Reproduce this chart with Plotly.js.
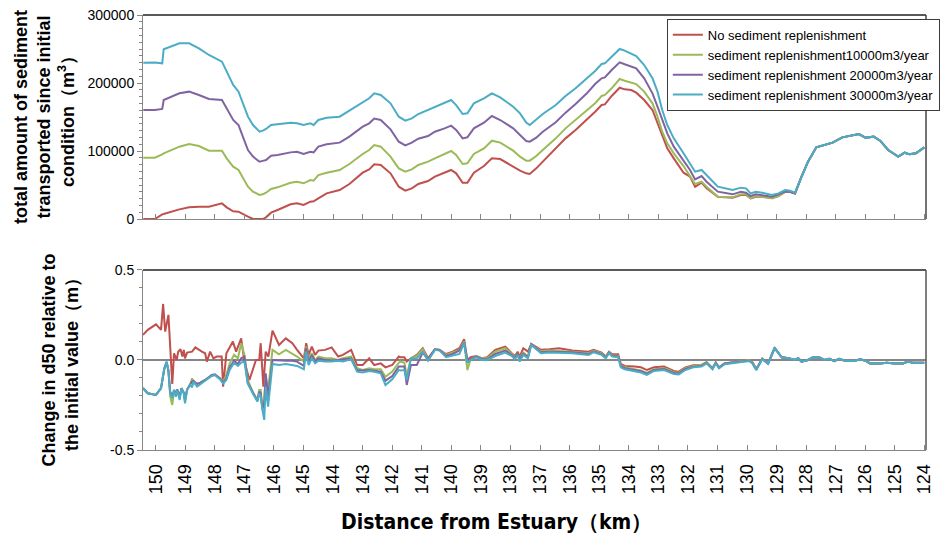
<!DOCTYPE html>
<html>
<head>
<meta charset="utf-8">
<script src="https://cdn.plot.ly/plotly-3.0.1.min.js"></script>
<style>html,body{margin:0;padding:0;background:#fff;}#chart{width:947px;height:536px;}</style>
</head>
<body>
<div id="chart"></div>
<script>
// ---------- Top panel: total amount of sediment transported (m3) ----------
const kmTop = [150.42,150.03,149.78,149.73,149.2,148.87,148.54,148.2,147.76,147.6,147.38,147.2,146.88,146.71,146.49,146.38,146.27,146.1,145.88,145.44,145.22,145.0,144.77,144.66,144.5,144.22,143.78,143.45,143.0,142.78,142.61,142.39,142.06,141.78,141.56,141.34,141.12,140.79,140.56,140.23,140.01,139.84,139.62,139.46,139.24,138.9,138.63,138.35,137.91,137.68,137.47,
  137.35,137.13,136.91,136.47,136.14,135.8,135.42,135.14,134.92,134.81,134.58,134.31,134.14,133.92,133.75,133.48,133.2,133.03,132.87,132.7,132.48,132.15,131.93,131.76,131.54,131.37,130.99,130.49,130.21,130.04,129.88,129.71,129.49,129.16,128.94,128.71,128.55,128.38,128.16,127.94,127.66,127.39,127.11,126.78,126.5,126.22,126.0,125.72,125.5,125.23,124.89,124.67,124.51,124.29,124.01];

const redTop = [0,0,6900,7400,14200,17200,18100,18100,23000,17200,11300,10800,3400,0,0,0,2500,9300,13200,21600,23000,20600,25500,26000,30400,37700,42600,51500,68100,73000,80400,79400,67200,47500,41700,45100,51500,55900,62300,68600,72100,67200,53400,53400,68100,77900,89200,88200,77000,71100,67200,
  66200,74500,84300,103900,118600,130900,145600,157800,167600,168600,180900,193100,190700,189700,185800,175000,160300,140700,121100,103900,89200,68100,62300,47500,53400,45100,32800,31400,35300,35300,30400,32800,32800,30400,33800,40200,40200,37700,
  62300,84300,105400,108800,112300,120100,122100,125000,119600,121100,115200,101500,91700,97500,95100,96600,105400];

const greenTop = [90200,90200,95100,96600,106400,110300,107400,100500,100500,89200,77000,72100,47500,40200,35300,36300,38700,44100,46600,53400,54900,52500,57400,56400,64700,68100,72100,80900,95600,101500,108800,106400,91700,74500,69600,73000,79400,84300,89200,95100,100000,94100,80900,81900,95600,103900,115200,112300,100500,91700,85800,
  85800,92600,101500,118600,133300,145600,159300,170100,180900,182400,192200,205900,203400,201000,198500,187300,170100,150500,128400,111300,96600,77900,63700,51500,54900,47500,32800,31900,36300,36300,30400,33800,32800,30400,33800,40200,40200,37700,
  62300,84300,105400,108800,112300,120100,122100,125000,119600,121100,115200,101500,91700,97500,95100,96600,105400];

const purpleTop = [160300,160300,161800,175000,184800,187300,182400,176500,175000,162700,145600,138200,101500,91700,84300,85500,86800,93100,94100,98000,99000,95600,99000,98000,106400,109800,112300,121100,135800,140700,147600,145600,131900,113700,108300,112300,118100,122100,128400,133300,137300,130900,118600,120100,133300,141700,151500,145600,133300,123500,114700,
  113700,119600,128400,142200,156400,169100,184800,198500,206900,208300,219100,230400,227500,224000,221600,206900,184800,165200,145600,126000,106400,86800,72100,58300,63200,54900,40200,36300,40200,38700,33800,36300,35300,32800,36300,40200,40200,37700,
  62300,84300,105400,108800,112300,120100,122100,125000,119600,121100,115200,101500,91700,97500,95100,96600,105400];

const cyanTop = [229900,230000,228900,249500,258300,258300,251000,241200,231400,216700,197100,187300,150500,138200,128400,130000,132400,138200,139200,141700,140700,138200,140700,138200,145600,149000,150500,159300,172600,177500,184800,182400,170100,150500,144600,148000,154400,160300,165200,171100,175000,167600,154400,155400,170100,177500,184800,178900,165200,155400,141700,
  138200,145600,154400,167600,180900,192200,206900,217600,227900,228900,238700,250000,247600,242600,239700,226500,206900,187300,160300,138200,118600,96600,81900,69600,72100,64700,47500,42600,46100,45100,37700,40200,38700,35300,37700,42600,41700,38700,
  62300,84300,105400,108800,112300,120100,122100,125000,119600,121100,115200,101500,91700,97500,95100,96600,105400];

// ---------- Bottom panel: change in d50 relative to initial value (m) ----------
const kmD50Red = [150.43,150.27,149.99,149.82,149.75,149.68,149.57,149.51,149.44,149.38,149.29,149.24,149.16,149.10,149.05,149.01,148.94,148.77,148.66,148.44,148.33,148.27,148.16,148.05,147.94,147.77,147.72,147.61,147.39,147.28,147.11,147.0,146.89,146.83,146.61,146.50,146.45,146.36,146.28,146.19,
  146.05,145.83,145.60,145.38,145.22,144.99,144.91,144.83,144.72,144.61,144.50,144.27,144.05,143.83,143.67,143.39,143.19,143.0,142.78,142.61,142.39,142.23,142.0,141.78,
  141.73,141.59,141.51,141.37,141.17,140.97,140.79,140.56,140.40,140.18,139.96,139.73,139.57,139.46,139.35,139.16,138.96,138.79,138.52,138.18,137.96,137.85,137.76,137.69,
  137.57,137.41,137.30,137.13,136.97,136.69,136.36,135.91,135.36,135.19,134.92,134.78,134.67,134.56,134.36,134.27,134.14,133.81,133.59,133.39,133.15,132.81,132.65,132.48,132.31,132.09,131.82,131.54,131.37,131.17,131.06,130.95,130.76,130.38,129.93,129.82,129.69,129.49,129.29,129.07,128.83,128.60,128.38,128.27,128.16,127.94,127.77,127.55,127.39,127.22,127.05,126.89,126.67,126.39,126.17,126.0,125.84,125.50,125.28,125.0,124.73,124.56,124.40,124.01];

const redD50 = [0.139,0.167,0.198,0.167,0.311,0.157,0.25,0.074,-0.133,0.037,0,0.046,0.059,0.019,0.056,0.009,0.041,0.046,0.070,0.046,0.037,-0.009,0.046,0.009,0.019,0.019,-0.148,0.037,0.102,0.046,0.120,-0.009,-0.074,-0.111,0,0,0.093,-0.148,0.046,0.019,
  0.163,0.083,0.120,0.093,0.056,0.009,0.093,0.028,0.074,0.028,0.052,0.056,0.070,0.019,0.028,0.056,-0.028,-0.028,0.009,-0.028,-0.019,-0.041,-0.028,0.019,
  0.015,0.015,-0.009,0.009,0.028,0.065,0.009,0.059,0.056,0.033,0.046,0.065,0.115,0,0.015,0.022,0.009,0.015,0.056,0.074,0.037,0.022,0.046,0.019,
  0.065,0.046,0.089,0.070,0.056,0.059,0.065,0.052,0.046,0.056,0.041,0.019,0.046,0.031,0.031,-0.022,-0.033,-0.037,-0.041,-0.056,-0.041,-0.037,-0.050,-0.061,-0.065,-0.041,-0.030,-0.028,-0.013,-0.046,-0.015,-0.041,-0.020,-0.009,0,-0.013,-0.050,0.007,-0.019,0.069,
  0.015,0.009,0,0.009,-0.009,0,0.015,0.013,0,0.006,-0.006,0.006,-0.006,-0.006,0.004,-0.004,-0.019,-0.019,-0.015,-0.019,-0.019,-0.009,-0.015,-0.015];

const kmD50 = [150.43,150.27,149.99,149.82,149.71,149.63,149.57,149.51,149.44,149.38,149.32,149.27,149.19,149.13,149.05,149.01,148.94,148.83,148.77,148.72,148.60,148.49,148.33,148.11,148.0,147.83,147.72,147.61,147.50,147.35,147.22,147.11,147.0,146.89,146.72,146.56,146.50,146.45,146.39,146.33,146.28,146.20,
  146.05,145.83,145.60,145.38,145.22,144.99,144.91,144.83,144.72,144.61,144.50,144.27,144.05,143.83,143.67,143.39,143.19,143.0,142.78,142.61,142.39,142.23,142.0,141.78,
  141.73,141.59,141.51,141.37,141.17,140.97,140.79,140.56,140.40,140.18,139.96,139.73,139.57,139.46,139.35,139.16,138.96,138.79,138.52,138.18,137.96,137.85,137.76,137.69,
  137.57,137.41,137.30,137.13,136.97,136.69,136.36,135.91,135.36,135.19,134.92,134.78,134.67,134.56,134.36,134.27,134.14,133.81,133.59,133.39,133.15,132.81,132.65,132.48,132.31,132.09,131.82,131.54,131.37,131.17,131.06,130.95,130.76,130.38,129.93,129.82,129.69,129.49,129.29,129.07,128.83,128.60,128.38,128.27,128.16,127.94,127.77,127.55,127.39,127.22,127.05,126.89,126.67,126.39,126.17,126.0,125.84,125.50,125.28,125.0,124.73,124.56,124.40,124.01];

const greenD50 = [-0.154,-0.185,-0.194,-0.154,-0.052,-0.015,-0.065,-0.204,-0.250,-0.176,-0.194,-0.167,-0.213,-0.157,-0.185,-0.231,-0.167,-0.133,-0.102,-0.130,-0.133,-0.126,-0.111,-0.089,-0.083,-0.102,-0.120,-0.083,-0.019,0.028,0.009,0.093,0.028,-0.111,-0.176,-0.222,-0.167,-0.167,-0.269,-0.222,-0.093,-0.167,
  0.056,0.031,0.056,0.037,0.019,-0.009,0.074,0.009,0.037,0,0.019,0.009,0.009,0,0.009,0.019,-0.046,-0.056,-0.046,-0.052,-0.052,-0.093,-0.065,-0.015,
  -0.009,-0.015,-0.089,0.009,0.022,0.059,0,0.056,0.056,0.028,0.041,0.056,0.102,-0.056,0.004,0.022,0.009,0.009,0.046,0.065,0.033,0.015,0.037,0.009,
  0.041,0.020,0.087,0.068,0.048,0.052,0.050,0.046,0.037,0.052,0.037,0.017,0.043,0.026,0.024,-0.030,-0.041,-0.050,-0.059,-0.072,-0.052,-0.046,-0.054,-0.069,-0.070,-0.046,-0.033,-0.028,-0.013,-0.046,-0.015,-0.041,-0.020,-0.011,0.0,-0.015,-0.052,0.007,-0.019,0.067,
  0.015,0.009,0,0.009,-0.009,0,0.015,0.013,0,0.006,-0.006,0.006,-0.006,-0.006,0.004,-0.004,-0.019,-0.019,-0.015,-0.019,-0.019,-0.009,-0.015,-0.015];

const purpleD50 = [-0.157,-0.185,-0.194,-0.157,-0.048,-0.011,-0.059,-0.176,-0.200,-0.167,-0.185,-0.163,-0.204,-0.157,-0.181,-0.222,-0.163,-0.130,-0.120,-0.115,-0.133,-0.126,-0.111,-0.083,-0.080,-0.102,-0.126,-0.102,-0.041,-0.004,-0.022,0.009,0.019,-0.126,-0.181,-0.228,-0.176,-0.185,-0.274,-0.241,-0.074,-0.204,
  0,-0.004,-0.004,-0.004,-0.009,-0.033,0.065,-0.009,0.028,-0.009,0.009,0,-0.004,0,0.004,0.009,-0.056,-0.059,-0.056,-0.059,-0.065,-0.115,-0.089,-0.037,
  -0.037,-0.037,-0.139,-0.028,-0.028,0.041,0.004,0.059,0.056,0.022,0.033,0.052,0.096,-0.009,0.004,0.019,0.004,0.004,0.033,0.052,0.028,0.009,0.037,0.004,
  0.035,0.015,0.087,0.065,0.043,0.046,0.046,0.043,0.033,0.048,0.033,0.013,0.041,0.024,0.020,-0.035,-0.046,-0.056,-0.063,-0.076,-0.056,-0.050,-0.059,-0.072,-0.074,-0.050,-0.037,-0.033,-0.015,-0.048,-0.015,-0.043,-0.020,-0.011,-0.004,-0.017,-0.054,0.006,-0.020,0.065,
  0.015,0.009,0,0.009,-0.009,0,0.015,0.013,0,0.006,-0.006,0.006,-0.006,-0.006,0.004,-0.004,-0.019,-0.019,-0.015,-0.019,-0.019,-0.009,-0.015,-0.015];

const cyanD50 = [-0.157,-0.185,-0.194,-0.157,-0.046,-0.009,-0.056,-0.185,-0.213,-0.167,-0.204,-0.167,-0.222,-0.157,-0.185,-0.241,-0.167,-0.139,-0.152,-0.120,-0.148,-0.135,-0.120,-0.089,-0.083,-0.107,-0.130,-0.111,-0.056,-0.015,-0.033,-0.015,-0.009,-0.130,-0.185,-0.231,-0.185,-0.204,-0.278,-0.333,-0.148,-0.259,
  -0.022,-0.028,-0.022,-0.028,-0.033,-0.052,0.046,-0.028,0.009,-0.019,-0.004,-0.009,-0.009,-0.004,-0.009,0.004,-0.065,-0.069,-0.061,-0.065,-0.074,-0.139,-0.107,-0.056,
  -0.059,-0.056,-0.111,0.009,0.009,0.046,-0.004,0.056,0.052,0.015,0.022,0.033,0.093,-0.015,0,0.015,0,0,0.022,0.041,0.022,0.004,0.028,-0.009,
  0.028,0.009,0.083,0.059,0.037,0.041,0.041,0.037,0.028,0.043,0.028,0.009,0.037,0.019,0.015,-0.041,-0.052,-0.061,-0.070,-0.083,-0.061,-0.056,-0.065,-0.078,-0.080,-0.056,-0.041,-0.037,-0.019,-0.052,-0.019,-0.046,-0.024,-0.015,-0.006,-0.019,-0.056,0.004,-0.022,0.065,
  0.015,0.009,0,0.009,-0.009,0,0.015,0.013,0,0.006,-0.006,0.006,-0.006,-0.006,0.004,-0.004,-0.019,-0.019,-0.015,-0.019,-0.019,-0.009,-0.015,-0.015];

const seriesNames = ['No sediment replenishment','sediment replenishment10000m3/year','sediment replenishment 20000m3/year','sediment replenishment 30000m3/year'];
const seriesColors = ['#C0504D','#9BBB59','#8064A2','#4BACC6'];
const d50TickVals = [-0.5, 0, 0.5];
const d50TickText = ['-0.5', '0.0', '0.5'];
const xTitle = 'Distance from Estuary（km）';

const topY = [redTop, greenTop, purpleTop, cyanTop];
const botY = [redD50, greenD50, purpleD50, cyanD50];
const botX = [kmD50Red, kmD50, kmD50, kmD50];

const traces = [];
for (let i = 0; i < 4; i++) {
  traces.push({x: kmTop, y: topY[i], xaxis: 'x', yaxis: 'y', type: 'scatter', mode: 'lines',
    name: seriesNames[i], legendgroup: 'g' + i, line: {color: seriesColors[i], width: 2}, hoverinfo: 'skip'});
}
for (let i = 0; i < 4; i++) {
  traces.push({x: botX[i], y: botY[i], xaxis: 'x2', yaxis: 'y2', type: 'scatter', mode: 'lines',
    name: seriesNames[i], legendgroup: 'g' + i, showlegend: false, line: {color: seriesColors[i], width: 2}, hoverinfo: 'skip'});
}

const axisGray = '#868686';
const FONT = 'Arial, "Liberation Sans", sans-serif';
const xCommon = {range: [150.43, 123.95], tick0: 124, dtick: 1, ticks: 'inside', ticklen: 5, tickcolor: axisGray,
  showline: true, linecolor: axisGray, linewidth: 1, showgrid: false, zeroline: false};

const layout = {
  width: 947, height: 536,
  margin: {l: 143, r: 7, t: 15, b: 86},
  paper_bgcolor: '#ffffff', plot_bgcolor: '#ffffff',
  font: {family: FONT, size: 14, color: '#000000'},
  showlegend: true,
  legend: {x: 0.669, y: 0.991, xanchor: 'left', yanchor: 'top', bgcolor: '#ffffff', bordercolor: '#3a3a3a', borderwidth: 1,
    font: {size: 13, family: FONT, color: '#000'}, tracegroupgap: 6, traceorder: 'normal'},
  xaxis: Object.assign({}, xCommon, {domain: [0, 1], anchor: 'y', showticklabels: false}),
  yaxis: {domain: [0.531, 1], anchor: 'x', range: [0, 300000], dtick: 100000, tickformat: 'd',
    ticks: 'outside', ticklen: 5, tickcolor: axisGray,
    minor: {dtick: 10000, ticks: 'outside', ticklen: 3, tickcolor: axisGray},
    showline: true, linecolor: axisGray, showgrid: false, zeroline: false,
    tickfont: {size: 14, color: '#000'},
    title: {text: 'total amount of sediment<br>transported since initial<br>condition（m<sup>3</sup>）',
      font: {size: 18, weight: 'bold', family: FONT, color: '#000'}, standoff: 8}},
  xaxis2: Object.assign({}, xCommon, {domain: [0, 1], anchor: 'y2', showticklabels: true, tickangle: -90,
    tickfont: {size: 18, color: '#000'}, ticklabelstandoff: 6}),
  yaxis2: {domain: [0, 0.414], anchor: 'x2', range: [-0.5, 0.5], tickvals: d50TickVals, ticktext: d50TickText,
    ticks: 'outside', ticklen: 5, tickcolor: axisGray,
    minor: {dtick: 0.1, ticks: 'outside', ticklen: 3, tickcolor: axisGray},
    showline: true, linecolor: axisGray, showgrid: false,
    zeroline: true, zerolinecolor: axisGray, zerolinewidth: 1.5,
    tickfont: {size: 14, color: '#000'},
    title: {text: 'Change in d50 relative to<br>the initial value（m）',
      font: {size: 18, weight: 'bold', family: FONT, color: '#000'}, standoff: 26}},
  annotations: [
    {text: xTitle, xref: 'paper', yref: 'paper', x: 0.4517, y: -0.1655, xanchor: 'center', yanchor: 'middle',
     showarrow: false, font: {size: 21, weight: 'bold', family: '"Liberation Sans Narrow", "DejaVu Sans Condensed", Arial, sans-serif', color: '#000'}}
  ],
  shapes: [
    {type: 'line', xref: 'paper', yref: 'paper', x0: 0, x1: 1, y0: 1, y1: 1, line: {color: '#222', width: 1.5}},
    {type: 'line', xref: 'paper', yref: 'paper', x0: 1, x1: 1, y0: 0.531, y1: 1, line: {color: '#444', width: 1.5}},
    {type: 'line', xref: 'paper', yref: 'paper', x0: 0, x1: 1, y0: 0.414, y1: 0.414, line: {color: '#222', width: 1.5}},
    {type: 'line', xref: 'paper', yref: 'paper', x0: 1, x1: 1, y0: 0, y1: 0.414, line: {color: '#555', width: 1.5}}
  ]
};

Plotly.newPlot('chart', traces, layout, {staticPlot: true, displayModeBar: false});
</script>
</body>
</html>
